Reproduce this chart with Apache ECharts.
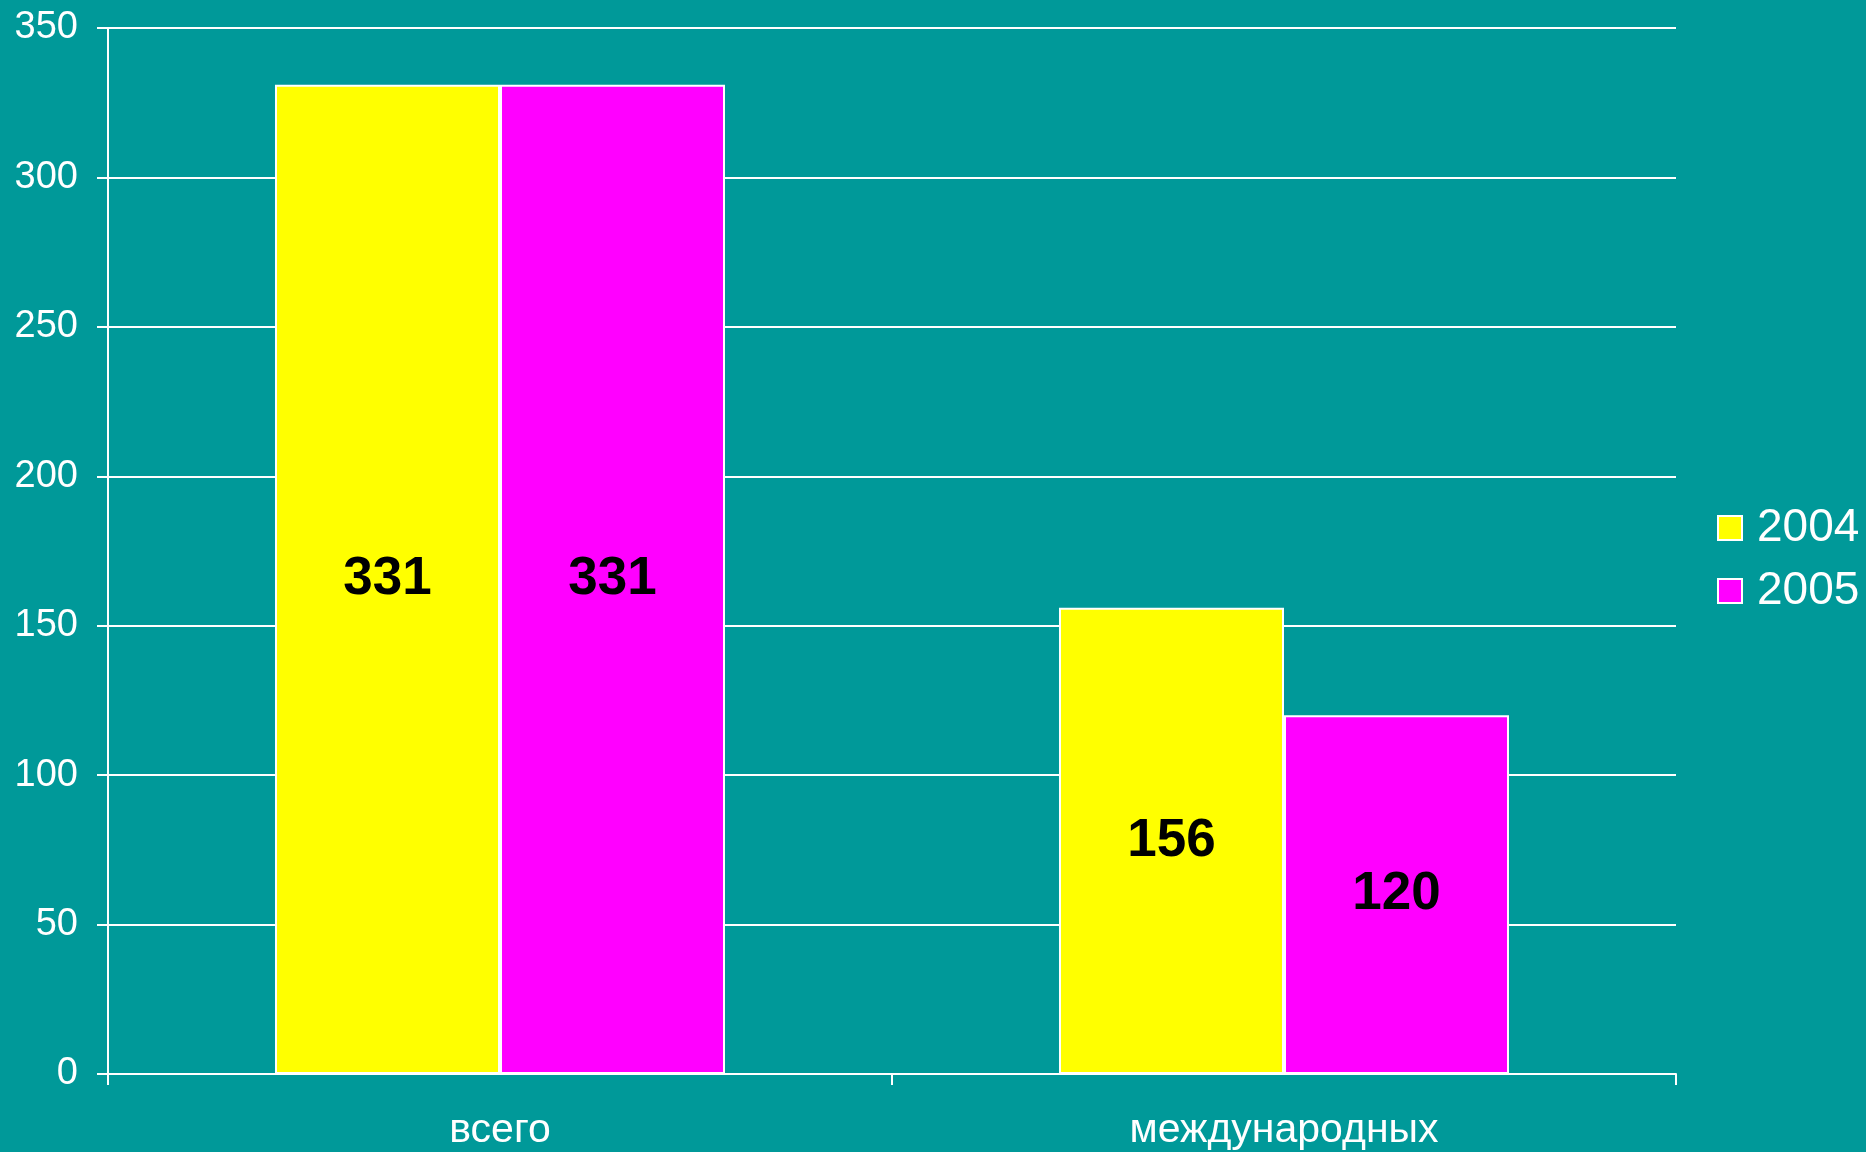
<!DOCTYPE html>
<html>
<head>
<meta charset="utf-8">
<script src="https://cdn.jsdelivr.net/npm/echarts@6/dist/echarts.min.js"></script>
<style>
    html, body { margin: 0; padding: 0; background: #009999; }
    #chart { width: 1866px; height: 1152px; }
</style>
</head>
<body>
<div id="chart"></div>
<script>
// Chart data
const categories = ['всего', 'международных'];
const seriesNames = ['2004', '2005'];
const values2004 = [331, 156];
const values2005 = [331, 120];
const yTicks = [0, 50, 100, 150, 200, 250, 300, 350];

const colors = ['#ffff00', '#ff00ff'];
const fontName = '"Liberation Sans", Arial, sans-serif';

const chart = echarts.init(document.getElementById('chart'));

const makeSeries = (name, data, color) => ({
    name: name,
    type: 'bar',
    data: data,
    barWidth: '28.7%',
    barGap: '0%',
    itemStyle: {
        color: color,
        borderColor: '#ffffff',
        borderWidth: 2
    },
    label: {
        show: true,
        position: 'inside',
        color: '#000000',
        fontFamily: fontName,
        fontWeight: 'bold',
        fontSize: 53
    }
});

chart.setOption({
    backgroundColor: '#009999',
    animation: false,
    grid: {
        left: 108,
        right: 190,
        top: 28,
        bottom: 78
    },
    legend: {
        data: seriesNames,
        orient: 'vertical',
        left: 1712,
        top: 500,
        itemWidth: 24,
        itemHeight: 24,
        itemGap: 17,
        icon: 'rect',
        itemStyle: { borderColor: '#ffffff', borderWidth: 2 },
        textStyle: {
            color: '#ffffff',
            fontFamily: fontName,
            fontSize: 46,
            padding: [0, 0, 0, 10]
        }
    },
    xAxis: {
        type: 'category',
        data: categories,
        axisLine: { lineStyle: { color: '#ffffff', width: 2 } },
        axisTick: { show: true, length: 11, lineStyle: { color: '#ffffff', width: 2 } },
        axisLabel: {
            color: '#ffffff',
            fontFamily: fontName,
            fontSize: 41,
            margin: 36
        }
    },
    yAxis: {
        type: 'value',
        min: yTicks[0],
        max: yTicks[yTicks.length - 1],
        interval: 50,
        axisLine: { show: true, lineStyle: { color: '#ffffff', width: 2 } },
        axisTick: { show: true, length: 11, lineStyle: { color: '#ffffff', width: 2 } },
        splitLine: { lineStyle: { color: '#ffffff', width: 2 } },
        axisLabel: {
            color: '#ffffff',
            fontFamily: fontName,
            fontSize: 38,
            margin: 30
        }
    },
    series: [
        makeSeries(seriesNames[0], values2004, colors[0]),
        makeSeries(seriesNames[1], values2005, colors[1])
    ]
});
</script>
</body>
</html>
